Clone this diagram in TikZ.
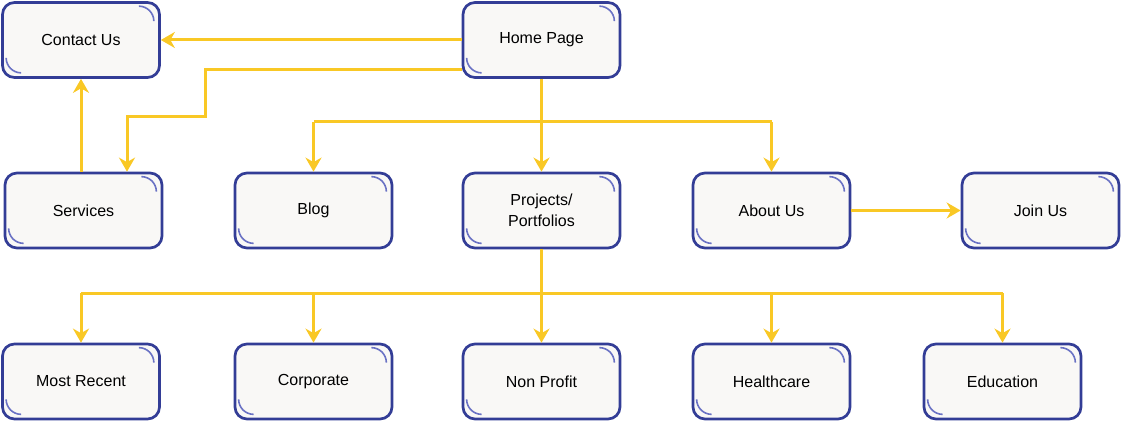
\documentclass[tikz,border=0pt]{standalone}
\usepackage{fontspec}
\setmainfont{Liberation Sans}
\usetikzlibrary{arrows.meta}
\definecolor{bxborder}{HTML}{333D96}
\definecolor{bxfill}{HTML}{F9F8F6}
\definecolor{bxarc}{HTML}{6A72C4}
\definecolor{conn}{HTML}{F9C825}
\tikzset{
  pagebox/.style={draw=bxborder, fill=bxfill, line width=2.7pt, rounded corners=12pt,
    minimum width=157pt, minimum height=75pt, align=center, inner sep=0pt,
    font=\fontsize{16pt}{21pt}\selectfont, text=black},
  cornerarc/.style={draw=bxarc, line width=1.6pt},
  link/.style={draw=conn, line width=3pt, -{Stealth[length=14pt,width=16pt,inset=4.5pt]}},
  plainlink/.style={draw=conn, line width=3pt}
}
\newcommand{\pbox}[4]{%
  \node[pagebox] (#1) at (#2,#3) {#4};
  \draw[cornerarc] ([xshift=-22pt,yshift=-5pt]#1.north east) arc[start angle=90,end angle=0,radius=15pt];
  \draw[cornerarc] ([xshift=5pt,yshift=21pt]#1.south west) arc[start angle=180,end angle=270,radius=15pt];
}
\begin{document}
\begin{tikzpicture}[x=1pt,y=-1pt]
\useasboundingbox (0,0) rectangle (1122,422);
\pbox{contact}{81}{40}{Contact Us}
\pbox{home}{541.5}{40}{Home Page}
\pbox{services}{83.5}{210.5}{Services}
\pbox{blog}{313.5}{210.5}{Blog}
\pbox{proj}{541.5}{210.5}{Projects/\\Portfolios}
\pbox{about}{771.5}{210.5}{About Us}
\pbox{join}{1040.5}{210.5}{Join Us}
\pbox{recent}{81}{381.5}{Most Recent}
\pbox{corp}{313.5}{381.5}{Corporate}
\pbox{nonprofit}{541.5}{381.5}{Non Profit}
\pbox{health}{771.5}{381.5}{Healthcare}
\pbox{edu}{1002.5}{381.5}{Education}

\coordinate (hs1) at (205,70);
\coordinate (hs2) at (205,117);
\coordinate (hs3) at (127,117);
\coordinate (b1) at (313.5,122);
\coordinate (b2) at (771.5,122);
\coordinate (p1) at (541.5,293);
\coordinate (q1) at (81,293);
\coordinate (q2) at (1002.5,293);

\draw[link] (home.west) -- (contact.east);
\draw[link] (home.west |- hs1) -- (hs1) -- (hs2) -- (hs3) -- (hs3 |- services.north);
\draw[link] (services.north -| contact.south) -- (contact.south);
\draw[link] (home.south) -- (proj.north);
\draw[plainlink] (b1) -- (b2);
\draw[link] (b1) -- (blog.north);
\draw[link] (b2) -- (about.north);
\draw[link] (about.east) -- (join.west);
\draw[plainlink] (proj.south) -- (p1);
\draw[plainlink] (q1) -- (q2);
\draw[link] (q1) -- (recent.north);
\draw[link] (corp.north |- q1) -- (corp.north);
\draw[link] (p1) -- (nonprofit.north);
\draw[link] (health.north |- q1) -- (health.north);
\draw[link] (q2) -- (edu.north);
\end{tikzpicture}
\end{document}
